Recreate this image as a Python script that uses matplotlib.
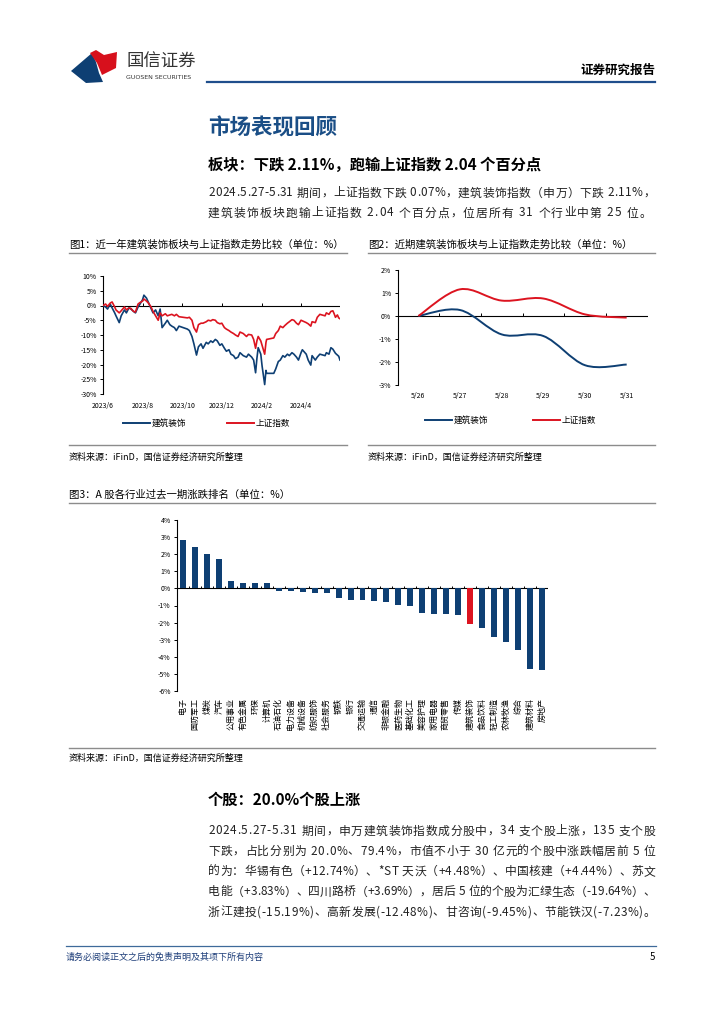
"""Guosen weekly report page: building decoration sector vs SSE index."""

import matplotlib
matplotlib.use("Agg")
import matplotlib.pyplot as plt
import pandas as pd
from matplotlib.patches import PathPatch, Polygon
from matplotlib.path import Path

plt.rcParams["font.family"] = ["Noto Sans CJK SC", "DejaVu Sans"]
plt.rcParams["axes.unicode_minus"] = False

BLUE = "#0E3F73"
RED = "#DC1420"
NAVY = "#1A4E86"
W, H = 724, 1024

# ---- Fig 1: one-year trend (%)
trend_dates = [
    "2023-06-01", "2023-06-05", "2023-06-08", "2023-06-12", "2023-06-15", "2023-06-19",
    "2023-06-21", "2023-06-26", "2023-06-29", "2023-07-04", "2023-07-07", "2023-07-11",
    "2023-07-14", "2023-07-18", "2023-07-21", "2023-07-25", "2023-07-28", "2023-08-01",
    "2023-08-03", "2023-08-07", "2023-08-10", "2023-08-14", "2023-08-17", "2023-08-21",
    "2023-08-25", "2023-08-28", "2023-08-31", "2023-09-05", "2023-09-08", "2023-09-12",
    "2023-09-15", "2023-09-19", "2023-09-22", "2023-09-26", "2023-10-09", "2023-10-12",
    "2023-10-16", "2023-10-19", "2023-10-23", "2023-10-26", "2023-10-30", "2023-11-02",
    "2023-11-07", "2023-11-10", "2023-11-14", "2023-11-17", "2023-11-21", "2023-11-24",
    "2023-11-28", "2023-12-01", "2023-12-05", "2023-12-08", "2023-12-12", "2023-12-15",
    "2023-12-19", "2023-12-22", "2023-12-26", "2023-12-29", "2024-01-03", "2024-01-08",
    "2024-01-11", "2024-01-16", "2024-01-19", "2024-01-22", "2024-01-24", "2024-01-26",
    "2024-01-30", "2024-02-01", "2024-02-05", "2024-02-07", "2024-02-08", "2024-02-19",
    "2024-02-22", "2024-02-26", "2024-02-29", "2024-03-04", "2024-03-07", "2024-03-11",
    "2024-03-14", "2024-03-18", "2024-03-21", "2024-03-25", "2024-03-28", "2024-04-01",
    "2024-04-03", "2024-04-09", "2024-04-12", "2024-04-16", "2024-04-18", "2024-04-23",
    "2024-04-26", "2024-04-30", "2024-05-08", "2024-05-10", "2024-05-14", "2024-05-17",
    "2024-05-20", "2024-05-22", "2024-05-24", "2024-05-27", "2024-05-29", "2024-05-31",
]
sector_1y = [
    0, -0.5, -1.2, 0.5, -0.8, -2.5,
    -3.5, -5.8, -3.5, -1.5, -2.5, -0.8,
    -1.2, -2.0, -2.5, -0.5, 0.5, 2.0,
    3.5, 2.5, 1.0, -1.0, -2.5, -1.5,
    -3.5, -1.2, -7.5, -6.0, -5.0, -6.5,
    -7.0, -7.5, -8.5, -7.0, -8.0, -8.5,
    -10.5, -13.0, -16.8, -14.0, -13.0, -14.5,
    -12.5, -13.0, -12.0, -12.5, -11.5, -12.0,
    -13.5, -13.0, -14.5, -15.5, -15.0, -16.5,
    -17.0, -18.0, -17.5, -16.0, -17.0, -17.5,
    -16.5, -17.5, -18.5, -22.8, -18.0, -14.3,
    -16.5, -20.5, -26.8, -22.0, -23.0, -23.0,
    -21.5, -19.0, -18.5, -17.0, -17.5, -16.5,
    -17.0, -16.0, -16.5, -17.5, -18.5, -16.0,
    -15.0, -16.5, -18.5, -20.2, -17.0, -18.5,
    -17.5, -16.5, -17.0, -16.0, -16.5, -14.3,
    -14.8, -15.5, -16.2, -16.8, -17.2, -18.5,
]
sse_1y = [
    0, 0.5, -0.3, 0.8, 1.2, -0.5,
    -1.5, -2.5, -1.8, -0.5, -1.5, -0.8,
    -1.0, -2.0, -2.2, 0.5, 1.0, 1.5,
    2.2, 1.5, 0.8, -0.5, -2.0, -3.5,
    -5.0, -2.5, -3.5, -2.8, -3.5, -3.2,
    -3.0, -3.5, -3.0, -3.8, -4.2, -4.0,
    -5.0, -7.5, -9.0, -6.5, -6.0, -6.0,
    -5.5, -5.0, -5.2, -4.8, -5.0, -5.8,
    -6.2, -6.0, -7.5, -8.0, -8.5, -9.0,
    -9.5, -10.0, -10.5, -9.0, -9.5, -10.5,
    -9.8, -10.0, -11.5, -14.5, -12.0, -10.5,
    -12.0, -13.5, -16.5, -12.5, -11.5, -11.0,
    -9.5, -8.5, -7.0, -7.5, -6.8, -6.0,
    -5.5, -4.8, -5.0, -6.0, -6.5, -5.0,
    -5.2, -5.8, -6.2, -7.0, -5.5, -5.8,
    -4.0, -3.0, -3.5, -2.5, -3.0, -2.0,
    -1.8, -2.8, -4.0, -3.2, -4.2, -4.5,
]
month_ticks = ["2023-06-01", "2023-08-01", "2023-10-01", "2023-12-01", "2024-02-01", "2024-04-01"]
month_labels = ["2023/6", "2023/8", "2023/10", "2023/12", "2024/2", "2024/4"]

# ---- Fig 2: last week (%)
week_days = ["5/26", "5/27", "5/28", "5/29", "5/30", "5/31"]
sector_week = [0, 0.26, -0.80, -0.87, -2.14, -2.11]
sse_week = [0, 1.16, 0.67, 0.76, 0.07, -0.07]

# ---- Fig 3: industry ranking (%)
industries = [
    "电子", "国防军工", "煤炭", "汽车", "公用事业", "有色金属", "环保", "计算机",
    "石油石化", "电力设备", "机械设备", "纺织服饰", "社会服务", "钢铁", "银行",
    "交通运输", "通信", "非银金融", "医药生物", "基础化工", "美容护理", "家用电器",
    "商贸零售", "传媒", "建筑装饰", "食品饮料", "轻工制造", "农林牧渔", "综合",
    "建筑材料", "房地产",
]
industry_chg = [
    2.84, 2.43, 2.02, 1.71, 0.43, 0.31, 0.31, 0.31,
    -0.14, -0.14, -0.20, -0.27, -0.27, -0.55, -0.65,
    -0.67, -0.76, -0.78, -0.98, -1.02, -1.43, -1.49,
    -1.51, -1.57, -2.11, -2.29, -2.84, -3.16, -3.63,
    -4.71, -4.78,
]

para1 = [
    "2024.5.27-5.31 期间，上证指数下跌 0.07%，建筑装饰指数（申万）下跌 2.11%，",
    "建筑装饰板块跑输上证指数 2.04 个百分点，位居所有 31 个行业中第 25 位。",
]
para2 = [
    "2024.5.27-5.31 期间，申万建筑装饰指数成分股中，34 支个股上涨，135 支个股",
    "下跌，占比分别为 20.0%、79.4%，市值不小于 30 亿元的个股中涨跌幅居前 5 位",
    "的为：华锡有色（+12.74%）、*ST 天沃（+4.48%）、中国核建（+4.44%）、苏文",
    "电能（+3.83%）、四川路桥（+3.69%），居后 5 位的个股为汇绿生态（-19.64%）、",
    "浙江建投(-15.19%)、高新发展(-12.48%)、甘咨询(-9.45%)、节能铁汉(-7.23%)。",
]
source = "资料来源：iFinD，国信证券经济研究所整理"


def box(fig, left, top, right, bottom):
    return fig.add_axes([left / W, 1 - bottom / H, (right - left) / W, (bottom - top) / H])


def smooth_path(xs, ys):
    # Catmull-Rom style bezier, like Excel's smoothed lines
    pts = list(zip(xs, ys))
    n = len(pts)
    verts, codes = [pts[0]], [Path.MOVETO]
    for i in range(n - 1):
        p0 = pts[i - 1] if i > 0 else pts[i]
        p1, p2 = pts[i], pts[i + 1]
        p3 = pts[i + 2] if i + 2 < n else pts[i + 1]
        c1 = (p1[0] + (p2[0] - p0[0]) / 6, p1[1] + (p2[1] - p0[1]) / 6)
        c2 = (p2[0] - (p3[0] - p1[0]) / 6, p2[1] - (p3[1] - p1[1]) / 6)
        verts += [c1, c2, p2]
        codes += [Path.CURVE4] * 3
    return Path(verts, codes)


def style_axes(ax, yticks, fs=5):
    for s in ("top", "right", "bottom"):
        ax.spines[s].set_visible(False)
    ax.spines["left"].set_linewidth(0.8)
    ax.set_yticks(yticks)
    ax.set_yticklabels([f"{v}%" for v in yticks])
    ax.tick_params(axis="y", length=2.5, width=0.7, labelsize=fs, pad=2)
    ax.tick_params(axis="x", length=0, labelsize=fs, pad=6)
    ax.patch.set_alpha(0)


_widths = {}


def justify(ax, x0, x1, y, line, fs, **kw):
    # place characters one by one so the line fills x0..x1 (report text is justified)
    r = ax.figure.canvas.get_renderer()
    ws = []
    for ch in line:
        key = (ch, fs)
        if key not in _widths:
            t = ax.text(0, 0, ch if ch != " " else "a", fontsize=fs)
            w = t.get_window_extent(r).width
            _widths[key] = w * (0.45 if ch == " " else 1.0)
            t.remove()
        ws.append(_widths[key])
    gap = (x1 - x0 - sum(ws)) / max(len(line) - 1, 1)
    x = x0
    for ch, w in zip(line, ws):
        if ch != " ":
            ax.text(x, y, ch, fontsize=fs, va="center", **kw)
        x += w + gap


fig = plt.figure(figsize=(W / 100, H / 100), dpi=100)
page = fig.add_axes([0, 0, 1, 1])
page.set_xlim(0, W)
page.set_ylim(H, 0)
page.axis("off")

# header
page.add_patch(Polygon([(71, 71), (92, 53), (96, 62), (99, 73), (103, 82), (86, 83)],
                       closed=True, color="#0E3F73", lw=0))
page.add_patch(Polygon([(90, 53), (96, 50), (104, 55), (117, 52), (116, 68), (102, 75), (97, 63)],
                       closed=True, color="#D7101C", lw=0))
page.text(126, 62, "国信证券", fontsize=12.5, color="#333333", va="center")
page.text(126, 77.5, "GUOSEN SECURITIES", fontsize=4.5, color="#333333", va="center",
          family=["DejaVu Sans"])
page.text(655, 70, "证券研究报告", fontsize=9, fontweight="bold", ha="right", va="center")
page.plot([207, 655], [82, 82], color="#1F4E8C", lw=1.6)

# titles and paragraph
page.text(208, 128, "市场表现回顾", fontsize=15.5, fontweight="bold", color=NAVY, va="center")
page.text(208, 165, "板块：下跌 2.11%，跑输上证指数 2.04 个百分点", fontsize=11,
          fontweight="bold", va="center")
text_fs = 8.5
justify(page, 208, 655, 193, para1[0], text_fs, color="#222222")
justify(page, 208, 651, 213, para1[1], text_fs, color="#222222")

# captions, rules, sources
cap_fs = 7.5
page.text(69, 245, "图1：近一年建筑装饰板块与上证指数走势比较（单位：%）", fontsize=cap_fs, va="center")
page.text(368, 245, "图2：近期建筑装饰板块与上证指数走势比较（单位：%）", fontsize=cap_fs, va="center")
page.text(69, 495, "图3：A 股各行业过去一期涨跌排名（单位：%）", fontsize=cap_fs, va="center")
for x0, x1, y in [(69, 347, 253), (368, 655, 253), (69, 347, 445), (368, 655, 445),
                  (69, 655, 503), (69, 655, 748)]:
    page.plot([x0, x1], [y, y], color="#8C8C8C", lw=1.0)
for x, y in [(69, 457), (368, 457), (69, 758)]:
    page.text(x, y, source, fontsize=6.5, va="center")

# legends
for x0, y, col, lab in [(123, 423, BLUE, "建筑装饰"), (227, 423, RED, "上证指数"),
                        (425, 420, BLUE, "建筑装饰"), (533, 420, RED, "上证指数")]:
    page.plot([x0, x0 + 27], [y, y], color=col, lw=1.4)
    page.text(x0 + 29, y, lab, fontsize=6.2, va="center")

# second section
page.text(208, 800, "个股：20.0%个股上涨", fontsize=11, fontweight="bold", va="center")
for i, line in enumerate(para2):
    justify(page, 208, 655, 831 + i * 20.3, line, text_fs, color="#222222")

# footer
page.plot([66, 656], [946, 946], color="#3E6A9A", lw=0.9)
page.text(66, 957, "请务必阅读正文之后的免责声明及其项下所有内容", fontsize=6.5, style="italic",
          color="#1F3F7A", va="center")
page.text(655, 957, "5", fontsize=7, ha="right", va="center")

# ---- chart 1
ax1 = box(fig, 103, 276, 340, 394)
d = pd.to_datetime(trend_dates)
ax1.plot(d, sector_1y, color=BLUE, lw=1.2, zorder=3)
ax1.plot(d, sse_1y, color=RED, lw=1.2, zorder=3)
ax1.set_xlim(pd.Timestamp("2023-06-01"), pd.Timestamp("2024-05-31"))
ax1.set_ylim(-30, 10)
style_axes(ax1, list(range(10, -31, -5)))
mt = pd.to_datetime(month_ticks)
ax1.set_xticks(mt)
ax1.set_xticklabels(month_labels)
ax1.axhline(0, color="black", lw=0.8, zorder=2)
ax1.vlines(mt, 0, 1.0, color="black", lw=0.7, zorder=2)

# ---- chart 2
ax2 = box(fig, 397.5, 270, 647.5, 385)
xs = list(range(len(week_days)))
ax2.add_patch(PathPatch(smooth_path(xs, sector_week), fill=False, ec=BLUE, lw=1.4, zorder=3))
ax2.add_patch(PathPatch(smooth_path(xs, sse_week), fill=False, ec=RED, lw=1.4, zorder=3))
ax2.set_xlim(-0.5, len(week_days) - 0.5)
ax2.set_ylim(-3, 2)
style_axes(ax2, [2, 1, 0, -1, -2, -3])
ax2.set_xticks(xs)
ax2.set_xticklabels(week_days)
ax2.tick_params(axis="x", pad=5)
ax2.axhline(0, color="black", lw=0.8, zorder=2)
ax2.vlines([x + 0.5 for x in xs], 0, 0.12, color="black", lw=0.7, zorder=2)

# ---- chart 3
ax3 = box(fig, 177, 520, 548, 691)
xi = list(range(len(industries)))
colors = [RED if n == "建筑装饰" else BLUE for n in industries]
ax3.bar(xi, industry_chg, width=0.5, color=colors, zorder=3)
ax3.set_xlim(-0.5, len(industries) - 0.5)
ax3.set_ylim(-6, 4)
style_axes(ax3, [4, 3, 2, 1, 0, -1, -2, -3, -4, -5, -6])
ax3.set_xticks(xi)
ax3.set_xticklabels(industries, rotation=90, va="top", ha="center", fontsize=5.8)
ax3.tick_params(axis="x", pad=5)
ax3.axhline(0, color="black", lw=0.8, zorder=2)
ax3.vlines([x + 0.5 for x in xi], 0, 0.12, color="black", lw=0.7, zorder=2)

fig.savefig("out.png", dpi=100)
